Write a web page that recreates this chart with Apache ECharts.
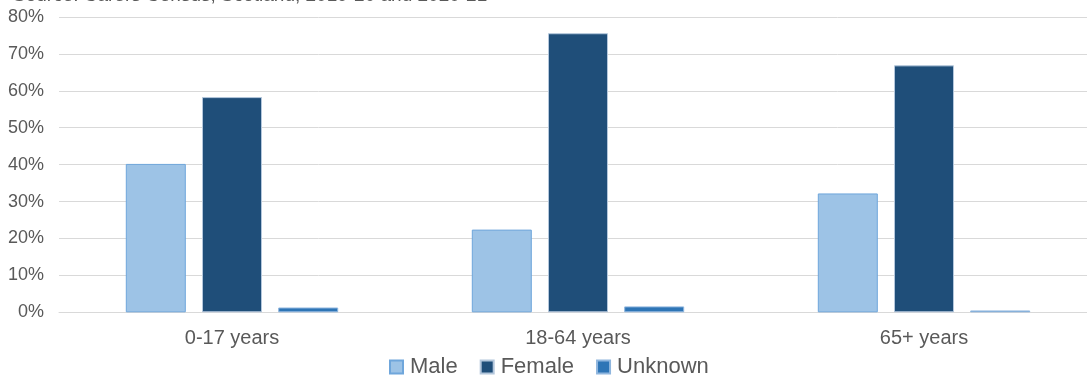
<!DOCTYPE html>
<html>
<head>
<meta charset="utf-8">
<script src="https://cdn.jsdelivr.net/npm/echarts@6/dist/echarts.min.js"></script>
<style>
  html, body { margin: 0; padding: 0; background: #ffffff; overflow: hidden; }
  #chart { width: 1100px; height: 376px; }
</style>
</head>
<body>
<div id="chart"></div>
<script>
// Carers by age group and sex (percent of carers in each age group)
const categories = ['0-17 years', '18-64 years', '65+ years'];
const male = [40.2, 22.4, 32.2];
const female = [58.3, 75.6, 66.9];
const unknown = [1.3, 1.6, 0.5];
const sourceNote = 'Source: Carers Census, Scotland, 2019-20 and 2020-21';

const FONT = '"Liberation Sans", Arial, sans-serif';
const TEXT = '#595959';

const chart = echarts.init(document.getElementById('chart'), null, { renderer: 'canvas' });

chart.setOption({
  animation: false,
  backgroundColor: '#ffffff',
  graphic: [{
    type: 'text',
    left: 13,
    top: -14,
    style: { text: sourceNote, font: '19px ' + FONT, fill: TEXT }
  }],
  grid: { left: 59, top: 17, width: 1038, height: 295.3, containLabel: false },
  legend: {
    left: 384,
    top: 351,
    itemWidth: 13,
    itemHeight: 13,
    itemGap: 22,
    icon: 'rect',
    textStyle: { fontFamily: FONT, fontSize: 22, color: TEXT, padding: [0, 0, 0, 2] },
    data: ['Male', 'Female', 'Unknown']
  },
  xAxis: {
    type: 'category',
    data: categories,
    axisLine: { show: true, lineStyle: { color: '#d9d9d9', width: 1 } },
    axisTick: { show: false },
    axisLabel: { color: TEXT, fontFamily: FONT, fontSize: 20, margin: 16 }
  },
  yAxis: {
    type: 'value',
    min: 0,
    max: 80,
    interval: 10,
    axisLine: { show: false },
    axisTick: { show: false },
    splitLine: { lineStyle: { color: '#d9d9d9', width: 1 } },
    axisLabel: {
      color: TEXT, fontFamily: FONT, fontSize: 18, margin: 15,
      formatter: v => v + '%'
    }
  },
  series: [
    {
      name: 'Male', type: 'bar', data: male,
      barWidth: 60, barGap: '27%',
      itemStyle: { color: '#9dc3e6', borderColor: '#6fa6db', borderWidth: 1 }
    },
    {
      name: 'Female', type: 'bar', data: female,
      barWidth: 60, barGap: '27%',
      itemStyle: { color: '#1f4e79', borderColor: '#b4c7dc', borderWidth: 1 }
    },
    {
      name: 'Unknown', type: 'bar', data: unknown,
      barWidth: 60, barGap: '27%',
      itemStyle: { color: '#2e75b6', borderColor: '#8fb6de', borderWidth: 1 }
    }
  ]
});
</script>
</body>
</html>
